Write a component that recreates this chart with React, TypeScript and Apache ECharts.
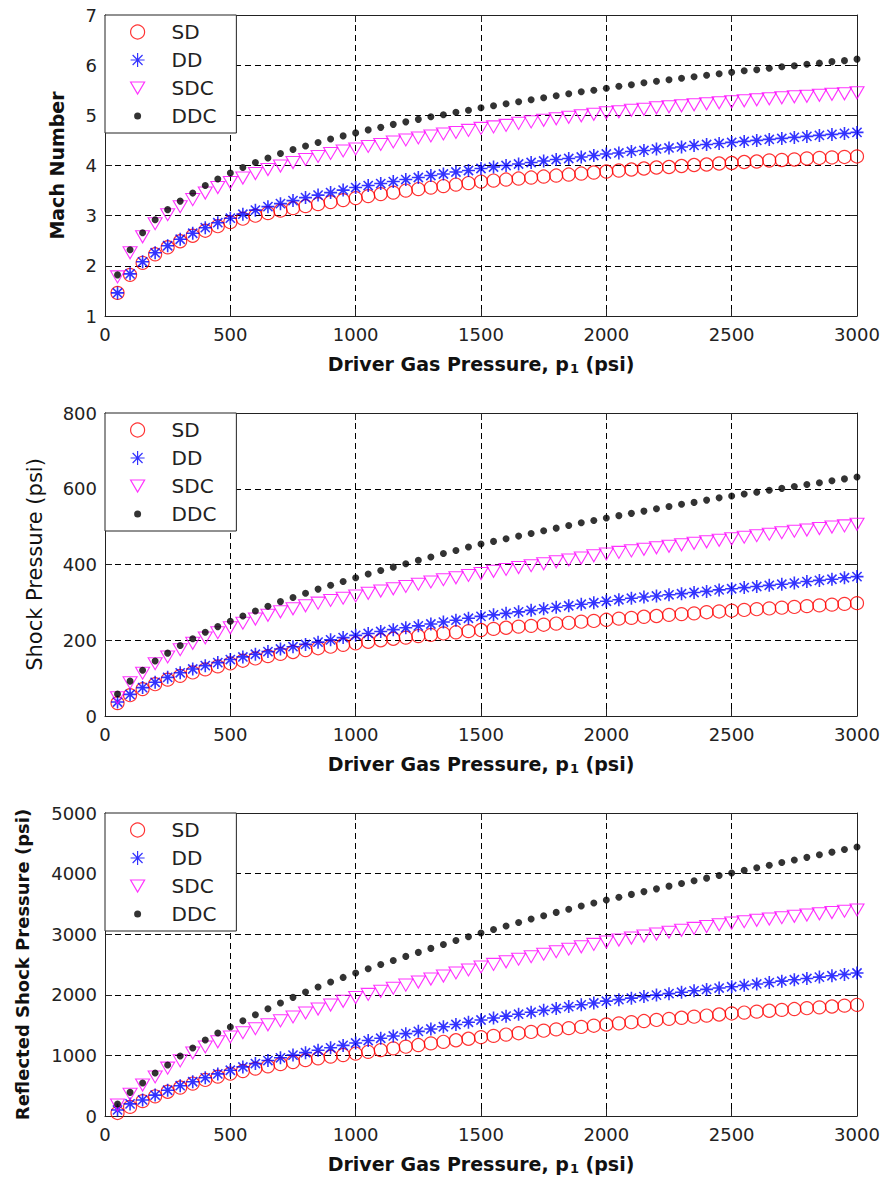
import React, { useEffect, useRef } from 'react';
import * as echarts from 'echarts';

const PRESSURE = [
  50, 100, 150, 200, 250, 300, 350, 400, 450, 500,
  550, 600, 650, 700, 750, 800, 850, 900, 950, 1000,
  1050, 1100, 1150, 1200, 1250, 1300, 1350, 1400, 1450, 1500,
  1550, 1600, 1650, 1700, 1750, 1800, 1850, 1900, 1950, 2000,
  2050, 2100, 2150, 2200, 2250, 2300, 2350, 2400, 2450, 2500,
  2550, 2600, 2650, 2700, 2750, 2800, 2850, 2900, 2950, 3000,
];

const SERIES_NAMES = ['SD', 'DD', 'SDC', 'DDC'];

const MACH_SD = [
  1.46, 1.82, 2.06, 2.23, 2.37, 2.49, 2.6, 2.7, 2.79, 2.87,
  2.94, 3.0, 3.05, 3.1, 3.15, 3.19, 3.23, 3.27, 3.31, 3.35,
  3.39, 3.43, 3.46, 3.5, 3.53, 3.56, 3.59, 3.62, 3.65, 3.68,
  3.7, 3.72, 3.74, 3.76, 3.78, 3.8, 3.82, 3.84, 3.86, 3.88,
  3.9, 3.92, 3.94, 3.96, 3.97, 3.99, 4.01, 4.02, 4.04, 4.05,
  4.07, 4.08, 4.1, 4.11, 4.12, 4.14, 4.15, 4.16, 4.17, 4.18,
];
const MACH_DD = [
  1.46, 1.84, 2.08, 2.26, 2.4, 2.53, 2.65, 2.76, 2.86, 2.95,
  3.03, 3.11, 3.18, 3.24, 3.3, 3.36, 3.41, 3.46, 3.51, 3.56,
  3.6, 3.64, 3.68, 3.72, 3.76, 3.8, 3.83, 3.87, 3.9, 3.94,
  3.97, 4.0, 4.03, 4.06, 4.09, 4.12, 4.14, 4.17, 4.2, 4.23,
  4.25, 4.28, 4.3, 4.33, 4.35, 4.37, 4.4, 4.42, 4.44, 4.46,
  4.48, 4.5, 4.52, 4.54, 4.56, 4.58, 4.6, 4.62, 4.64, 4.66,
];
const MACH_SDC = [
  1.78, 2.26, 2.58, 2.84, 3.02, 3.18, 3.32, 3.45, 3.56, 3.66,
  3.75, 3.84, 3.92, 3.99, 4.06, 4.12, 4.18, 4.24, 4.29, 4.33,
  4.38, 4.42, 4.47, 4.51, 4.55, 4.59, 4.63, 4.66, 4.7, 4.74,
  4.77, 4.8, 4.84, 4.87, 4.9, 4.93, 4.96, 4.99, 5.02, 5.05,
  5.07, 5.1, 5.12, 5.15, 5.17, 5.19, 5.21, 5.23, 5.25, 5.27,
  5.29, 5.31, 5.33, 5.35, 5.37, 5.38, 5.4, 5.42, 5.43, 5.45,
];
const MACH_DDC = [
  1.82, 2.32, 2.66, 2.92, 3.12, 3.29, 3.45, 3.6, 3.73, 3.85,
  3.96, 4.06, 4.15, 4.24, 4.32, 4.39, 4.46, 4.53, 4.59, 4.65,
  4.71, 4.76, 4.82, 4.87, 4.92, 4.97, 5.01, 5.06, 5.1, 5.15,
  5.19, 5.23, 5.27, 5.31, 5.35, 5.39, 5.43, 5.47, 5.5, 5.54,
  5.58, 5.61, 5.65, 5.68, 5.71, 5.74, 5.77, 5.8, 5.83, 5.86,
  5.89, 5.91, 5.94, 5.97, 5.99, 6.02, 6.04, 6.07, 6.09, 6.12,
];

const SHOCK_SD = [
  34, 55, 71, 84, 96, 106, 115, 123, 131, 139,
  146, 152, 158, 164, 169, 174, 179, 183, 188, 192,
  196, 200, 204, 207, 211, 214, 218, 221, 224, 227,
  230, 233, 236, 238, 241, 244, 246, 249, 251, 254,
  257, 259, 262, 264, 267, 269, 271, 274, 276, 278,
  280, 282, 284, 286, 288, 290, 292, 294, 296, 298,
];
const SHOCK_DD = [
  37, 57, 75, 89, 102, 114, 124, 133, 141, 149,
  156, 163, 170, 177, 183, 189, 195, 201, 207, 213,
  218, 223, 228, 233, 238, 243, 248, 253, 258, 263,
  267, 271, 275, 279, 283, 287, 291, 295, 299, 303,
  307, 311, 314, 317, 320, 323, 326, 329, 333, 336,
  339, 342, 345, 348, 351, 355, 358, 361, 365, 368,
];
const SHOCK_SDC = [
  48, 88, 113, 138, 156, 175, 192, 206, 220, 233,
  245, 256, 266, 275, 283, 291, 298, 305, 311, 317,
  324, 330, 336, 342, 348, 354, 360, 365, 371, 376,
  382, 387, 392, 397, 402, 407, 412, 417, 423, 428,
  432, 436, 440, 444, 448, 452, 456, 460, 464, 468,
  472, 476, 480, 484, 488, 491, 495, 499, 502, 506,
];
const SHOCK_DDC = [
  58, 92, 121, 145, 166, 186, 204, 221, 236, 250,
  264, 277, 290, 302, 313, 324, 335, 345, 355, 365,
  375, 384, 393, 402, 411, 420, 429, 437, 446, 454,
  461, 468, 475, 482, 489, 496, 503, 510, 516, 523,
  529, 535, 541, 547, 553, 559, 564, 570, 576, 581,
  586, 591, 596, 601, 606, 611, 616, 621, 626, 631,
];

const REFL_SD = [
  50, 150, 245, 325, 400, 470, 535, 595, 650, 700,
  742, 782, 820, 856, 890, 922, 952, 980, 1006, 1030,
  1059, 1088, 1116, 1144, 1171, 1198, 1224, 1250, 1275, 1300,
  1322, 1344, 1366, 1387, 1408, 1429, 1450, 1470, 1490, 1510,
  1529, 1548, 1567, 1585, 1603, 1621, 1639, 1657, 1675, 1692,
  1707, 1722, 1737, 1751, 1765, 1779, 1793, 1807, 1821, 1835,
];
const REFL_DD = [
  100, 200, 265, 345, 425, 500, 565, 630, 695, 755,
  810, 865, 915, 960, 1005, 1045, 1085, 1125, 1165, 1205,
  1245, 1283, 1321, 1359, 1397, 1435, 1473, 1510, 1547, 1584,
  1616, 1648, 1680, 1712, 1743, 1774, 1805, 1835, 1865, 1895,
  1920, 1945, 1970, 1995, 2019, 2043, 2066, 2089, 2111, 2133,
  2156, 2179, 2202, 2225, 2248, 2270, 2292, 2315, 2337, 2360,
];
const REFL_SDC = [
  180, 360, 510, 645, 790, 910, 1040, 1140, 1225, 1305,
  1375, 1440, 1505, 1570, 1634, 1700, 1765, 1830, 1893, 1955,
  2007, 2058, 2109, 2160, 2210, 2260, 2310, 2360, 2410, 2459,
  2502, 2545, 2587, 2629, 2670, 2711, 2752, 2792, 2832, 2871,
  2904, 2937, 2970, 3002, 3034, 3065, 3096, 3126, 3156, 3185,
  3207, 3229, 3251, 3273, 3295, 3316, 3337, 3358, 3379, 3400,
];
const REFL_DDC = [
  198, 390, 545, 710, 842, 990, 1122, 1254, 1370, 1469,
  1572, 1672, 1770, 1865, 1958, 2045, 2130, 2210, 2287, 2360,
  2430, 2499, 2567, 2634, 2700, 2766, 2831, 2895, 2958, 3020,
  3078, 3136, 3193, 3250, 3305, 3360, 3413, 3465, 3515, 3564,
  3611, 3657, 3703, 3748, 3793, 3838, 3882, 3925, 3968, 4010,
  4053, 4096, 4139, 4182, 4225, 4268, 4311, 4354, 4397, 4440,
];

const PANELS = [
  { yName: 'Mach Number', yMin: 1, yMax: 7, yInterval: 1, data: [MACH_SD, MACH_DD, MACH_SDC, MACH_DDC] },
  { yName: 'Shock Pressure (psi)', yMin: 0, yMax: 800, yInterval: 200, data: [SHOCK_SD, SHOCK_DD, SHOCK_SDC, SHOCK_DDC] },
  { yName: 'Reflected Shock Pressure (psi)', yMin: 0, yMax: 5000, yInterval: 1000, data: [REFL_SD, REFL_DD, REFL_SDC, REFL_DDC] },
];

const FONT = 'DejaVu Sans';
const GRID_LEFT = 105;
const GRID_WIDTH = 752;
const GRID_TOPS = [15, 413, 813];
const GRID_HEIGHTS = [301, 303, 303];
const Y_NAME_CENTER_X = [57, 35, 22];
const Y_NAME_FONTS = [
  `bold 19px "${FONT}"`,
  `normal 21px "${FONT}"`,
  `bold 18px "${FONT}"`,
];

const ASTERISK = 'path://M0,-6.5L0,6.5M-6.5,0L6.5,0M-4.6,-4.6L4.6,4.6M-4.6,4.6L4.6,-4.6';
const TRIANGLE_DOWN = 'path://M0,0L14,0L7,12Z';
const DOT_ICON = 'path://M0,0M14,14M3.5,7A3.5,3.5,0,1,0,10.5,7A3.5,3.5,0,1,0,3.5,7Z';

const MARKERS = [
  { symbol: 'circle', symbolSize: 13, itemStyle: { color: 'transparent', borderColor: '#ff0000', borderWidth: 1.2 } },
  { symbol: ASTERISK, symbolSize: 13, itemStyle: { color: 'transparent', borderColor: '#0000ff', borderWidth: 1.6 } },
  { symbol: TRIANGLE_DOWN, symbolSize: [14, 12], itemStyle: { color: 'transparent', borderColor: '#ff00ff', borderWidth: 1.1 } },
  { symbol: 'circle', symbolSize: 7, itemStyle: { color: '#000000' } },
];

const AXIS_COLOR = '#222';
const plainNumber = (v: number) => String(v);

function buildOption() {
  const grid: any[] = [];
  const xAxis: any[] = [];
  const yAxis: any[] = [];
  const series: any[] = [];
  const legend: any[] = [];
  const graphic: any[] = [];

  PANELS.forEach((p, gi) => {
    grid.push({ left: GRID_LEFT, top: GRID_TOPS[gi], width: GRID_WIDTH, height: GRID_HEIGHTS[gi], containLabel: false });
    const common = {
      type: 'value',
      gridIndex: gi,
      axisLine: { show: true, onZero: false, lineStyle: { color: AXIS_COLOR, width: 1 } },
      axisTick: { show: true, inside: true, length: 7, lineStyle: { color: AXIS_COLOR } },
    };
    xAxis.push({
      ...common,
      position: 'bottom',
      min: 0,
      max: 3000,
      interval: 500,
      axisLabel: { margin: 9, color: AXIS_COLOR, fontSize: 18, fontFamily: FONT, formatter: plainNumber },
      splitLine: { show: true, lineStyle: { color: '#000', type: [6, 4], width: 1 } },
      name: '{b|Driver Gas Pressure, p}{s|1}{b| (psi)}',
      nameLocation: 'middle',
      nameGap: 37,
      nameTextStyle: {
        rich: {
          b: { fontSize: 19, fontWeight: 'bold', fontFamily: FONT, color: '#111' },
          s: { fontSize: 13, fontWeight: 'bold', fontFamily: FONT, color: '#111', padding: [9, 0, 0, 1] },
        },
      },
    });
    xAxis.push({
      ...common,
      position: 'top',
      min: 0,
      max: 3000,
      interval: 500,
      axisLabel: { show: false },
      splitLine: { show: false },
    });
    yAxis.push({
      ...common,
      position: 'left',
      min: p.yMin,
      max: p.yMax,
      interval: p.yInterval,
      axisLabel: { margin: 8, color: AXIS_COLOR, fontSize: 18, fontFamily: FONT, formatter: plainNumber },
      splitLine: { show: true, lineStyle: { color: '#000', type: [6, 4], width: 1 } },
    });
    yAxis.push({
      ...common,
      position: 'right',
      min: p.yMin,
      max: p.yMax,
      interval: p.yInterval,
      axisLabel: { show: false },
      splitLine: { show: false },
    });

    graphic.push({
      type: 'text',
      x: Y_NAME_CENTER_X[gi],
      y: GRID_TOPS[gi] + GRID_HEIGHTS[gi] / 2,
      rotation: Math.PI / 2,
      style: {
        text: p.yName,
        font: Y_NAME_FONTS[gi],
        fill: '#111',
        align: 'center',
        verticalAlign: 'middle',
      },
    });

    SERIES_NAMES.forEach((name, si) => {
      const vals = p.data[si];
      series.push({
        type: 'scatter',
        name,
        xAxisIndex: gi * 2,
        yAxisIndex: gi * 2,
        clip: false,
        ...MARKERS[si],
        data: PRESSURE.map((x, i) => [x, vals[i]]),
      });
    });

    legend.push({
      orient: 'vertical',
      left: GRID_LEFT,
      top: GRID_TOPS[gi],
      padding: [7, 20, 7, 25],
      itemGap: 8,
      itemWidth: 14,
      itemHeight: 14,
      backgroundColor: '#fff',
      borderColor: AXIS_COLOR,
      borderWidth: 1,
      borderRadius: 0,
      selectedMode: false,
      itemStyle: { borderWidth: 1.2 },
      textStyle: { fontSize: 20, fontFamily: FONT, color: '#222', padding: [0, 0, 0, 22] },
      data: SERIES_NAMES.map((n) => (n === 'DDC' ? { name: n, icon: DOT_ICON } : { name: n })),
    });
  });

  return {
    animation: false,
    backgroundColor: '#fff',
    textStyle: { fontFamily: FONT },
    grid,
    xAxis,
    yAxis,
    legend,
    series,
    graphic,
  };
}

export default function App() {
  const ref = useRef<HTMLDivElement>(null);
  useEffect(() => {
    if (!ref.current) return;
    const chart = echarts.init(ref.current, undefined, { renderer: 'svg' });
    chart.setOption(buildOption() as any);
    return () => chart.dispose();
  }, []);
  return (
    <div
      ref={ref}
      style={{ position: 'fixed', left: 0, top: 0, width: 883, height: 1183, background: '#fff' }}
    />
  );
}
